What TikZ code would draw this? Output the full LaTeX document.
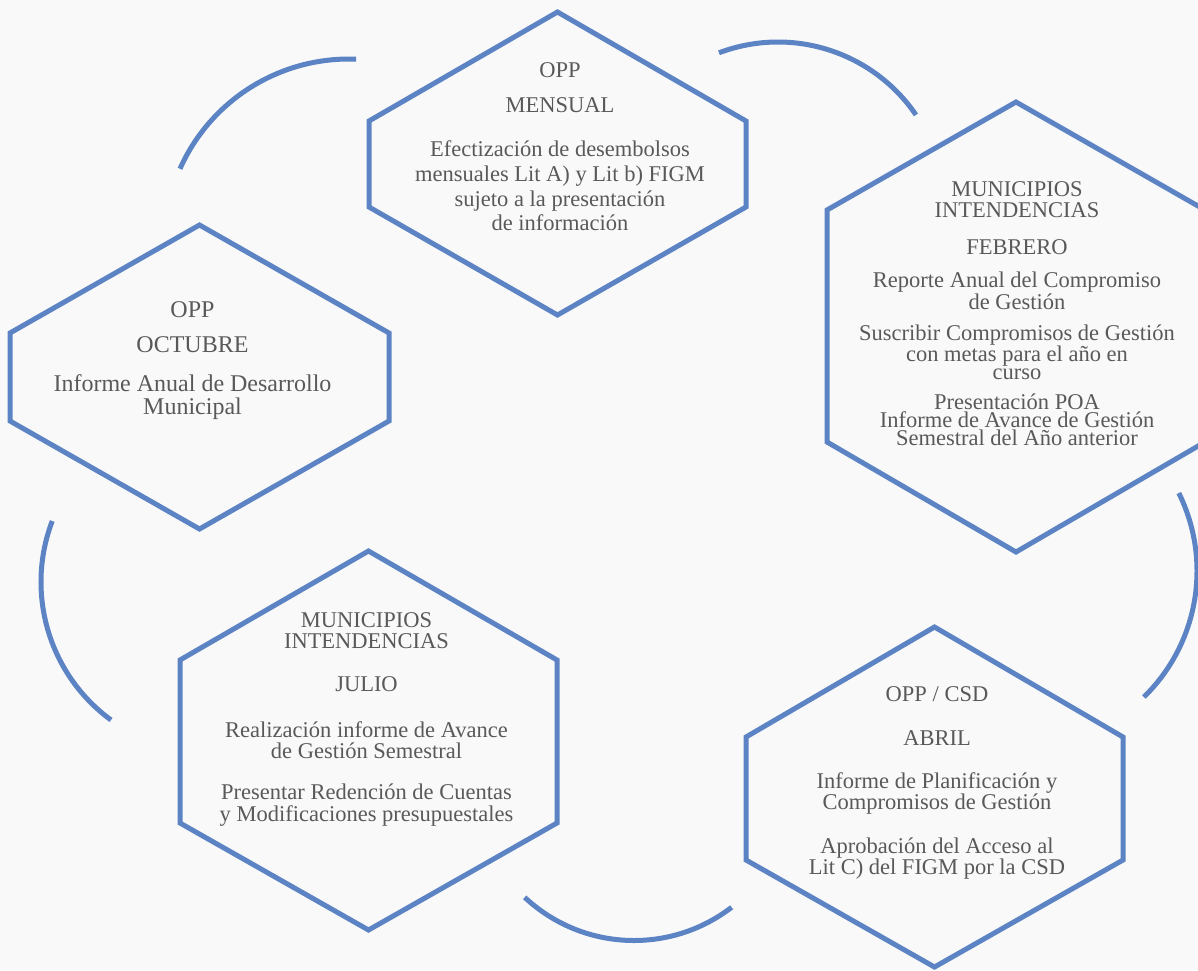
\documentclass[tikz,border=0pt]{standalone}
\usepackage{fontspec}
\setmainfont{Liberation Serif}
\definecolor{hexblue}{RGB}{92,131,196}
\definecolor{txtgray}{RGB}{89,89,89}
\definecolor{bggray}{RGB}{249,249,249}
\begin{document}
\begin{tikzpicture}[x=1pt,y=-1pt,
  hexline/.style={draw=hexblue,line width=5pt},
  arcline/.style={draw=hexblue,line width=5pt},
  lbl/.style={text=txtgray,align=center,inner sep=0pt,font=\fontsize{22.5}{25}\selectfont},
  lblbig/.style={lbl,font=\fontsize{24}{23}\selectfont},
]
\fill[bggray] (0,0) rectangle (1198,970);
\useasboundingbox (0,0) rectangle (1198,970);

% hexagons
\draw[hexline] (557.5,12) -- (746,121) -- (746,207) -- (557.5,315) -- (369,207) -- (369,121) -- cycle;
\draw[hexline] (1016,102) -- (1205,210) -- (1205,442) -- (1016,552) -- (827,442) -- (827,210) -- cycle;
\draw[hexline] (199.5,225) -- (389,333) -- (389,421) -- (199.5,529) -- (10,421) -- (10,333) -- cycle;
\draw[hexline] (368.5,551) -- (557,660) -- (557,823) -- (368.5,930) -- (180,823) -- (180,660) -- cycle;
\draw[hexline] (934.5,627) -- (1123,737) -- (1123,860) -- (934.5,967) -- (746,860) -- (746,737) -- cycle;

% arcs
\coordinate (cTL) at (349,244);
\coordinate (cTR) at (778,209);
\coordinate (cR) at (1021,571);
\coordinate (cB) at (634,780.5);
\coordinate (cL) at (212,582);
\draw[arcline] (cTL) ++(272.2:185) arc[start angle=272.2,end angle=204,radius=185];
\draw[arcline] (cTR) ++(-110.7:167) arc[start angle=-110.7,end angle=-34.3,radius=167];
\draw[arcline] (cR) ++(-26.3:176) arc[start angle=-26.3,end angle=45.7,radius=176];
\draw[arcline] (cB) ++(133.1:160) arc[start angle=133.1,end angle=52.4,radius=160];
\draw[arcline] (cL) ++(200.9:171) arc[start angle=200.9,end angle=126.2,radius=171];

% texts: top hexagon
\node[lbl] (h1a) at (560,70) {OPP};
\node[lbl] (h1b) at (560,105) {MENSUAL};
\node[lbl,font=\fontsize{22.5}{24.7}\selectfont] (h1c) at (560,186) {Efectización de desembolsos\\mensuales Lit A) y Lit b) FIGM\\sujeto a la presentación\\de información};

% right hexagon
\node[lbl,font=\fontsize{22.5}{21}\selectfont] (h2a) at (1017,200) {MUNICIPIOS\\INTENDENCIAS};
\node[lbl] (h2b) at (1017,247) {FEBRERO};
\node[lbl,font=\fontsize{22.5}{16.7}\selectfont] (h2c) at (1017,291) {Reporte Anual del Compromiso\\de Gestión};
\node[lbl,font=\fontsize{22.5}{17.2}\selectfont] (h2d) at (1017,352) {Suscribir Compromisos de Gestión\\con metas para el año en\\curso};
\node[lbl,font=\fontsize{22.5}{17.8}\selectfont] (h2e) at (1017,420) {Presentación POA\\Informe de Avance de Gestión\\Semestral del Año anterior};

% left hexagon
\node[lblbig] (h3a) at (192.5,310) {OPP};
\node[lblbig] (h3b) at (192.5,344.5) {OCTUBRE};
\node[lblbig] (h3c) at (192.5,397.5) {Informe Anual de Desarrollo\\Municipal};

% bottom-left hexagon
\node[lbl,font=\fontsize{22.5}{21.4}\selectfont] (h4a) at (366.5,630.5) {MUNICIPIOS\\INTENDENCIAS};
\node[lbl] (h4b) at (366.5,684.3) {JULIO};
\node[lbl,font=\fontsize{22.5}{21}\selectfont] (h4c) at (366.5,740) {Realización informe de Avance\\de Gestión Semestral};
\node[lbl,font=\fontsize{22.5}{21.7}\selectfont] (h4d) at (366.5,805) {Presentar Redención de Cuentas\\y Modificaciones presupuestales};

% bottom-right hexagon
\node[lbl] (h5a) at (937,694.3) {OPP / CSD};
\node[lbl] (h5b) at (937,738.3) {ABRIL};
\node[lbl,font=\fontsize{22.5}{21.7}\selectfont] (h5c) at (937,793.5) {Informe de Planificación y\\Compromisos de Gestión};
\node[lbl,font=\fontsize{22.5}{21.7}\selectfont] (h5d) at (937,858.5) {Aprobación del Acceso al\\Lit C) del FIGM por la CSD};
\end{tikzpicture}
\end{document}
